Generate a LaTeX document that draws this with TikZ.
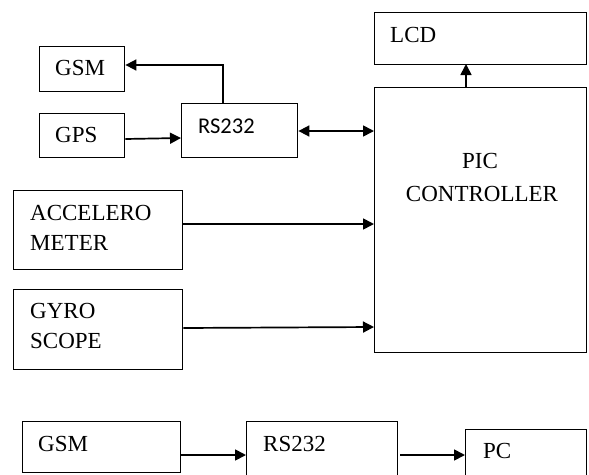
\documentclass[tikz,border=0pt]{standalone}
\usepackage{fontspec}
\setmainfont{Liberation Serif}
\newfontfamily\calib{Carlito}
\usetikzlibrary{arrows.meta}
\begin{document}
\begin{tikzpicture}[x=1pt,y=-1pt,
  box/.style={draw,line width=1.4pt,rectangle,inner sep=0pt,anchor=north west},
  lbl/.style={anchor=base west,inner sep=0pt,font=\fontsize{23}{27}\selectfont},
  clbl/.style={anchor=base,inner sep=0pt,font=\fontsize{23}{27}\selectfont},
  conn/.style={line width=1.7pt,-{Triangle[length=11pt,width=11pt]}},
  bconn/.style={line width=1.7pt,{Triangle[length=11pt,width=11pt]}-{Triangle[length=11pt,width=11pt]}}]
\useasboundingbox (0,0) rectangle (589,474);
\clip (0,0) rectangle (589,474);
% boxes
\node[box,minimum width=85pt,minimum height=45pt] (gsma) at (39,46) {};
\node[box,minimum width=85pt,minimum height=44pt] (gps) at (39,113) {};
\node[box,minimum width=116pt,minimum height=54pt] (rsa) at (181,103) {};
\node[box,minimum width=212pt,minimum height=52pt] (lcd) at (374,12) {};
\node[box,minimum width=212pt,minimum height=265pt] (pic) at (374,87) {};
\node[box,minimum width=169pt,minimum height=79pt] (acc) at (13,190) {};
\node[box,minimum width=169pt,minimum height=80pt] (gyro) at (13,289) {};
\node[box,minimum width=158pt,minimum height=51pt] (gsmb) at (22,421) {};
\node[box,minimum width=151pt,minimum height=80pt] (rsb) at (246,421) {};
\node[box,minimum width=121pt,minimum height=80pt] (pc) at (465,429) {};
% texts
\node[lbl] (t1) at (55,75) {GSM};
\node[lbl] (t2) at (55,142) {GPS};
\node[lbl,font=\calib\fontsize{22.5}{26}\selectfont] (t3) at (198,133) {RS232};
\node[lbl] (t4) at (390,42) {LCD};
\node[clbl] (t5) at (480,168) {PIC};
\node[clbl] (t6) at (482,201) {CONTROLLER};
\node[lbl] (t7) at (30,220) {ACCELERO};
\node[lbl] (t8) at (30,250) {METER};
\node[lbl] (t9) at (30,318) {GYRO};
\node[lbl] (t10) at (30,348) {SCOPE};
\node[lbl] (t11) at (38,451) {GSM};
\node[lbl] (t12) at (263,451) {RS232};
\node[lbl] (t13) at (483,458) {PC};
% connectors
\draw[conn] (rsa.north west |- rsa.north) ++(42,0) |- (gsma.east |- 0,65);
\draw[conn] (gps.east |- 0,139) -- (rsa.west |- 0,138);
\draw[bconn] (rsa.east |- 0,131) -- (pic.west |- 0,131);
\draw[conn] (pic.north west) ++(92,0) -- ++(0,-23);
\draw[conn] (acc.east |- 0,224) -- (pic.west |- 0,224);
\draw[conn] (gyro.east |- 0,328) -- (pic.west |- 0,327);
\draw[conn] (gsmb.east |- 0,455) -- (rsb.west |- 0,455);
\draw[conn] (rsb.east |- 0,455) ++(2,0) -- (pc.west |- 0,455);
\end{tikzpicture}
\end{document}
